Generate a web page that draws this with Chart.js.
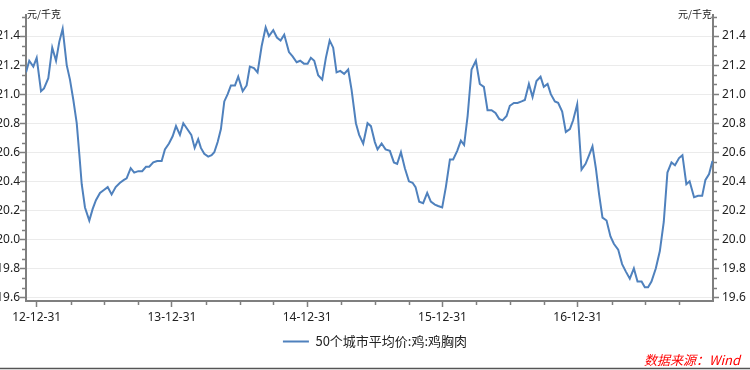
<!DOCTYPE html>
<html lang="zh">
<head>
  <meta charset="UTF-8" />
  <title>50个城市平均价:鸡:鸡胸肉</title>
  <script src="https://cdn.jsdelivr.net/npm/chart.js"></script>
  <style>
    body {
      margin: 0;
      padding: 0;
      background: #ffffff;
    }
    #wrap {
      width: 750px;
      height: 370px;
      position: relative;
    }
  </style>
</head>
<body>

<div id="wrap">
  <canvas id="priceChart" width="750" height="370"></canvas>
</div>

<script>
  // 时间轴用小数年表示：2013.0 = 12-12-31
  const dates = [
    2012.921, 2012.945, 2012.975, 2013.000, 2013.032, 2013.054, 2013.086, 2013.115, 2013.143, 2013.167,
    2013.192, 2013.222, 2013.246, 2013.271, 2013.296, 2013.315, 2013.333, 2013.357, 2013.389, 2013.414,
    2013.438, 2013.468, 2013.497, 2013.525, 2013.554, 2013.584, 2013.616, 2013.645, 2013.665, 2013.695,
    2013.721, 2013.751, 2013.780, 2013.808, 2013.832, 2013.862, 2013.891, 2013.924, 2013.948, 2013.978,
    2014.005, 2014.030, 2014.059, 2014.084, 2014.113, 2014.143, 2014.168, 2014.194, 2014.214, 2014.239,
    2014.268, 2014.293, 2014.313, 2014.338, 2014.362, 2014.387, 2014.412, 2014.436, 2014.466, 2014.490,
    2014.523, 2014.552, 2014.576, 2014.606, 2014.633, 2014.663, 2014.693, 2014.717, 2014.749, 2014.776,
    2014.803, 2014.830, 2014.865, 2014.892, 2014.922, 2014.948, 2014.976, 2015.003, 2015.027, 2015.052,
    2015.081, 2015.111, 2015.138, 2015.166, 2015.192, 2015.217, 2015.244, 2015.273, 2015.303, 2015.328,
    2015.360, 2015.384, 2015.414, 2015.446, 2015.471, 2015.500, 2015.520, 2015.550, 2015.579, 2015.611,
    2015.641, 2015.665, 2015.693, 2015.722, 2015.752, 2015.779, 2015.801, 2015.828, 2015.857, 2015.887,
    2015.914, 2015.944, 2015.968, 2015.998, 2016.025, 2016.055, 2016.079, 2016.109, 2016.136, 2016.160,
    2016.186, 2016.215, 2016.247, 2016.276, 2016.306, 2016.333, 2016.363, 2016.392, 2016.419, 2016.444,
    2016.474, 2016.498, 2016.528, 2016.555, 2016.585, 2016.609, 2016.639, 2016.666, 2016.695, 2016.725,
    2016.749, 2016.777, 2016.801, 2016.831, 2016.855, 2016.885, 2016.912, 2016.942, 2016.966, 2016.996,
    2017.028, 2017.058, 2017.084, 2017.109, 2017.134, 2017.158, 2017.183, 2017.213, 2017.242, 2017.267,
    2017.299, 2017.328, 2017.355, 2017.385, 2017.415, 2017.442, 2017.472, 2017.496, 2017.520, 2017.545,
    2017.577, 2017.607, 2017.636, 2017.663, 2017.693, 2017.719, 2017.749, 2017.774, 2017.803, 2017.827,
    2017.860, 2017.890, 2017.920, 2017.944, 2017.971, 2017.996
  ];

  const prices = [
    21.15, 21.23, 21.19, 21.25, 21.02, 21.04, 21.11, 21.32, 21.23, 21.36,
    21.45, 21.20, 21.10, 20.96, 20.80, 20.59, 20.38, 20.22, 20.13, 20.21,
    20.27, 20.32, 20.34, 20.36, 20.31, 20.36, 20.39, 20.41, 20.42, 20.49,
    20.46, 20.47, 20.47, 20.50, 20.50, 20.53, 20.54, 20.54, 20.62, 20.66,
    20.71, 20.78, 20.72, 20.80, 20.76, 20.72, 20.63, 20.69, 20.63, 20.59,
    20.57, 20.58, 20.60, 20.67, 20.76, 20.95, 21.00, 21.06, 21.06, 21.12,
    21.02, 21.06, 21.19, 21.18, 21.15, 21.33, 21.46, 21.40, 21.44, 21.39,
    21.37, 21.41, 21.29, 21.26, 21.22, 21.23, 21.21, 21.21, 21.25, 21.23,
    21.13, 21.10, 21.25, 21.37, 21.32, 21.15, 21.16, 21.14, 21.17, 21.03,
    20.80, 20.72, 20.66, 20.80, 20.78, 20.67, 20.62, 20.66, 20.62, 20.61,
    20.53, 20.52, 20.60, 20.49, 20.40, 20.39, 20.36, 20.26, 20.25, 20.32,
    20.26, 20.24, 20.23, 20.22, 20.36, 20.55, 20.55, 20.61, 20.68, 20.65,
    20.85, 21.17, 21.23, 21.07, 21.05, 20.89, 20.89, 20.87, 20.83, 20.82,
    20.85, 20.92, 20.94, 20.94, 20.95, 20.96, 21.07, 20.98, 21.09, 21.12,
    21.05, 21.07, 21.00, 20.95, 20.94, 20.88, 20.74, 20.76, 20.82, 20.93,
    20.48, 20.52, 20.58, 20.64, 20.49, 20.31, 20.15, 20.13, 20.02, 19.97,
    19.93, 19.83, 19.78, 19.73, 19.80, 19.71, 19.71, 19.67, 19.67, 19.71,
    19.80, 19.92, 20.12, 20.46, 20.53, 20.51, 20.56, 20.58, 20.38, 20.40,
    20.29, 20.30, 20.30, 20.41, 20.45, 20.54
  ];

  const yTicks = [19.6, 19.8, 20.0, 20.2, 20.4, 20.6, 20.8, 21.0, 21.2, 21.4];
  const xTicks = [2013, 2014, 2015, 2016, 2017];
  const xTickLabels = ['12-12-31', '13-12-31', '14-12-31', '15-12-31', '16-12-31'];

  const seriesName = '50个城市平均价:鸡:鸡胸肉';
  const unitText = '元/千克';
  const sourceText = '数据来源：Wind';

  const lineColor = '#4F81BD';
  const axisColor = '#7f7f7f';
  const gridColor = '#ebebeb';
  const labelFont = { family: "'Noto Sans', 'Noto Sans CJK SC', sans-serif", size: 12 };

  const yMin = 19.576;
  const yMax = 21.545;

  // 次刻度线 + 单位 + 数据来源
  const extras = {
    id: 'extras',
    afterDraw(chart) {
      const { ctx, chartArea: a, scales } = chart;
      ctx.save();
      ctx.strokeStyle = axisColor;
      ctx.lineWidth = 1.5;
      ctx.beginPath();
      const minorStep = 0.2 / 3;
      for (let k = 1; yTicks[0] + k * minorStep <= yMax; k++) {
        if (k % 3 === 0) continue;
        const py = Math.round(scales.y.getPixelForValue(yTicks[0] + k * minorStep)) + 0.5;
        ctx.moveTo(a.left - 4, py); ctx.lineTo(a.left, py);
        ctx.moveTo(a.right, py); ctx.lineTo(a.right + 4, py);
      }
      for (let q = 2012.75; q < scales.x.max; q += 0.25) {
        if (q < scales.x.min || Number.isInteger(q)) continue;
        const px = Math.round(scales.x.getPixelForValue(q)) + 0.5;
        ctx.moveTo(px, a.bottom); ctx.lineTo(px, a.bottom + 4);
      }
      ctx.stroke();

      ctx.fillStyle = '#222';
      ctx.font = "10px 'Noto Sans CJK SC', sans-serif";
      ctx.textBaseline = 'middle';
      ctx.textAlign = 'left';
      ctx.fillText(unitText, a.left + 1, 14);
      ctx.textAlign = 'right';
      ctx.fillText(unitText, a.right - 1, 14);

      ctx.fillStyle = '#ff0000';
      ctx.font = "italic 13px 'Noto Sans CJK SC', sans-serif";
      ctx.fillText(sourceText, 740, 360);

      ctx.strokeStyle = '#555';
      ctx.lineWidth = 1.5;
      ctx.beginPath();
      ctx.moveTo(0, 368.5); ctx.lineTo(750, 368.5);
      ctx.stroke();
      ctx.restore();
    }
  };

  const points = dates.map((d, i) => ({ x: d, y: prices[i] }));

  const ctx = document.getElementById('priceChart').getContext('2d');
  const chart = new Chart(ctx, {
    type: 'line',
    data: {
      datasets: [{
        label: seriesName,
        data: points,
        borderColor: lineColor,
        backgroundColor: lineColor,
        borderWidth: 2,
        pointRadius: 0,
        tension: 0,
        yAxisID: 'y'
      }]
    },
    options: {
      responsive: false,
      animation: false,
      layout: { padding: { top: 15, left: 0, right: 0, bottom: 12 } },
      scales: {
        x: {
          type: 'linear',
          min: dates[0],
          max: 2018.0,
          afterBuildTicks: s => { s.ticks = xTicks.map(v => ({ value: v })); },
          afterFit: s => { s.height = 30; },
          ticks: {
            color: '#222',
            font: labelFont,
            padding: 3,
            maxRotation: 0,
            autoSkip: false,
            callback: v => xTickLabels[xTicks.indexOf(v)]
          },
          grid: { drawOnChartArea: false, drawTicks: true, tickLength: 6, tickColor: axisColor, tickWidth: 1.5 },
          border: { color: axisColor, width: 2 }
        },
        y: {
          position: 'left',
          min: yMin,
          max: yMax,
          afterBuildTicks: s => { s.ticks = yTicks.map(v => ({ value: v })); },
          afterFit: s => { s.width = 26; },
          ticks: {
            color: '#222',
            font: labelFont,
            padding: 0,
            callback: v => v.toFixed(1)
          },
          grid: { color: gridColor, lineWidth: 1, tickLength: 6, tickColor: axisColor, tickWidth: 1.5 },
          border: { color: axisColor, width: 2 }
        },
        y2: {
          position: 'right',
          min: yMin,
          max: yMax,
          afterBuildTicks: s => { s.ticks = yTicks.map(v => ({ value: v })); },
          afterFit: s => { s.width = 37; },
          ticks: {
            color: '#222',
            font: labelFont,
            padding: 3,
            callback: v => v.toFixed(1)
          },
          grid: { drawOnChartArea: false, tickLength: 6, tickColor: axisColor, tickWidth: 1.5 },
          border: { color: axisColor, width: 2 }
        }
      },
      plugins: {
        legend: {
          position: 'bottom',
          labels: {
            color: '#222',
            font: { family: "'Noto Sans CJK SC', sans-serif", size: 13 },
            usePointStyle: true,
            pointStyle: 'line',
            pointStyleWidth: 26,
            padding: 4
          }
        },
        tooltip: { enabled: false }
      }
    },
    plugins: [extras]
  });
</script>

</body>
</html>
